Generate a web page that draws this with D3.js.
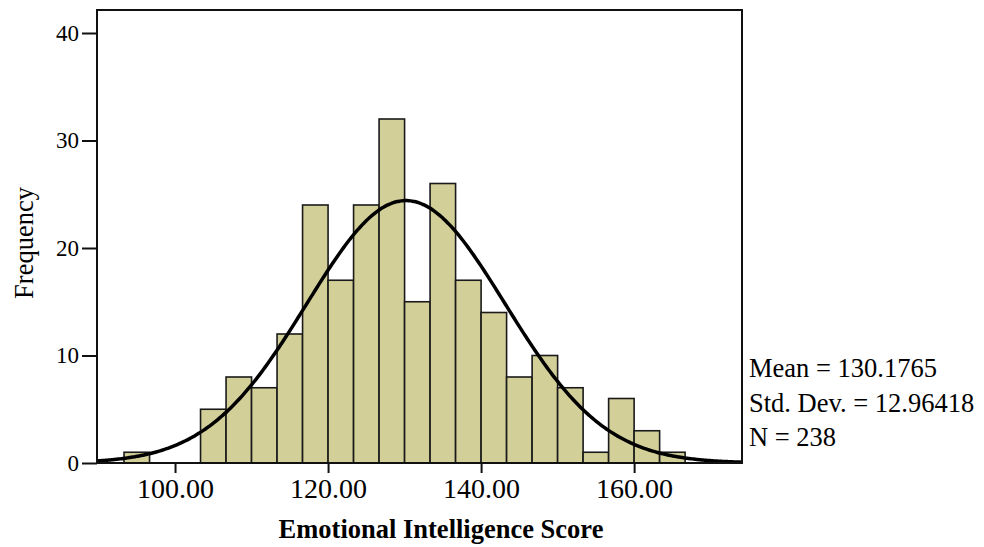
<!DOCTYPE html>
<html><head><meta charset="utf-8">
<script src="https://cdn.jsdelivr.net/npm/d3@7"></script>
<style>body{margin:0;background:#fff;} svg{display:block;}</style>
</head><body>
<svg id="c" width="984" height="547"></svg>
<script>
// Histogram bins (start of bin) and frequencies
const binStarts = [93.333,96.667,100,103.333,106.667,110,113.333,116.667,120,123.333,126.667,130,133.333,136.667,140,143.333,146.667,150,153.333,156.667,160,163.333];
const binWidth = 10/3;
const counts = [1,0,0,5,8,7,12,24,17,24,32,15,26,17,14,8,10,7,1,6,3,1];
const xTicks = [100,120,140,160];
const yTicks = [0,10,20,30,40];
const stats = {mean:130.1765, sd:12.96418, n:238};
const statLabels = ["Mean = 130.1765","Std. Dev. = 12.96418","N = 238"];

const svg = d3.select("#c");
const font = "'Liberation Serif','Times New Roman',serif";
const L=97, R=742, T=10, B=463;
const x = d3.scaleLinear().domain([89.8,174.1]).range([L,R]);
const y = d3.scaleLinear().domain([0,40]).range([B,33]);

// bars
svg.append("g").selectAll("rect").data(binStarts.map((s,i)=>({s,c:counts[i]})).filter(d=>d.c>0))
  .join("rect")
  .attr("x",d=>x(d.s)).attr("width",d=>x(d.s+binWidth)-x(d.s))
  .attr("y",d=>y(d.c)).attr("height",d=>y(0)-y(d.c))
  .attr("fill","#d3cf99").attr("stroke","#1a1a1a").attr("stroke-width",1.6);

// normal curve from stats
const xs = d3.range(x.domain()[0], x.domain()[1]+0.01, 0.25);
const pdf = v => stats.n*binWidth/(stats.sd*Math.sqrt(2*Math.PI))*Math.exp(-0.5*((v-stats.mean)/stats.sd)**2);
svg.append("path").datum(xs)
  .attr("d",d3.line().x(d=>x(d)).y(d=>y(pdf(d))).curve(d3.curveBasis))
  .attr("fill","none").attr("stroke","#000").attr("stroke-width",3.5);

// frame
svg.append("rect").attr("x",L).attr("y",T).attr("width",R-L).attr("height",B-T)
  .attr("fill","none").attr("stroke","#111").attr("stroke-width",2);

// y axis
const ya = svg.append("g").attr("transform",`translate(${L},0)`)
  .call(d3.axisLeft(y).tickValues(yTicks).tickSize(15).tickPadding(3).tickFormat(d3.format("d")));
ya.select(".domain").remove();
ya.selectAll("line").attr("stroke","#111").attr("stroke-width",2);
ya.selectAll("text").attr("font-family",font).attr("font-size",23).attr("fill","#000");

// x axis
const xa = svg.append("g").attr("transform",`translate(0,${B})`)
  .call(d3.axisBottom(x).tickValues(xTicks).tickSize(10).tickPadding(5).tickFormat(d3.format(".2f")));
xa.select(".domain").remove();
xa.selectAll("line").attr("stroke","#111").attr("stroke-width",2);
xa.selectAll("text").attr("font-family",font).attr("font-size",28).attr("fill","#000");

// titles
svg.append("text").attr("x",441).attr("y",538).attr("text-anchor","middle")
  .attr("font-family",font).attr("font-weight","bold").attr("font-size",26.5).text("Emotional Intelligence Score");
svg.append("text").attr("transform","translate(33,243) rotate(-90)").attr("text-anchor","middle")
  .attr("font-family",font).attr("font-size",26.5).text("Frequency");

// stats
svg.append("g").selectAll("text").data(statLabels).join("text")
  .attr("x",749).attr("y",(d,i)=>377+i*34.5)
  .attr("font-family",font).attr("font-size",26.5).text(d=>d);
</script>
</body></html>
